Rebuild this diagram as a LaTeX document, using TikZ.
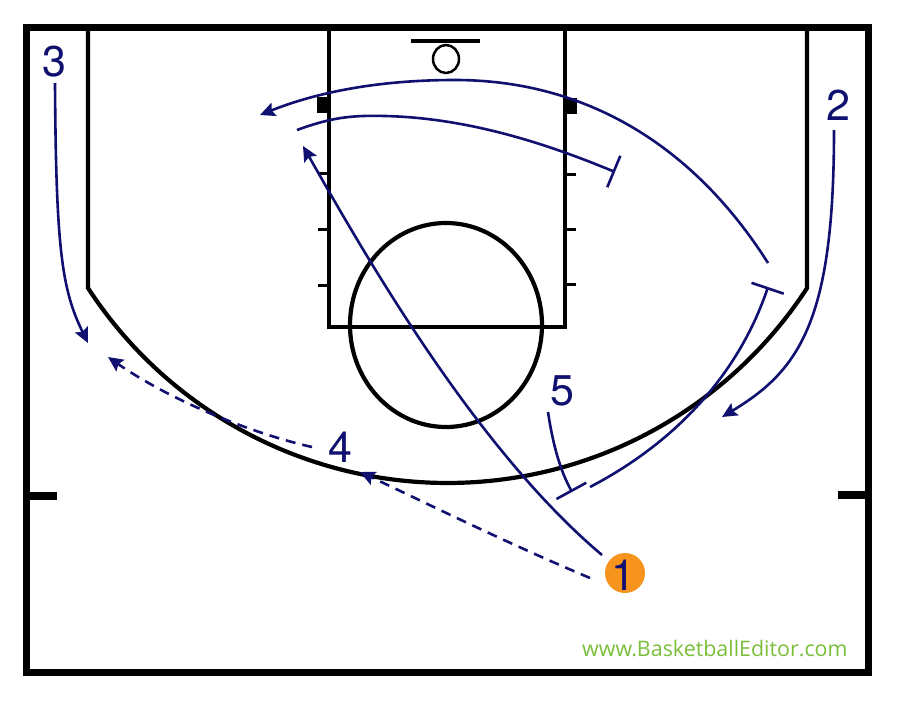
\documentclass[tikz,border=0pt]{standalone}
\usepackage{fontspec}
\setmainfont{TeX Gyre Heros}
\newfontfamily\wmfont{Open Sans}
\usetikzlibrary{arrows.meta}
\definecolor{navy}{RGB}{16,16,112}
\definecolor{wmgreen}{RGB}{122,190,58}
\definecolor{ballorange}{RGB}{247,148,30}
\begin{document}
\begin{tikzpicture}[x=1pt,y=-1pt,
  court/.style={line width=4.2pt, black},
  hashmark/.style={line width=3pt, black},
  sidemark/.style={line width=8pt, black},
  move/.style={navy, line width=2.6pt, -{Stealth[length=15pt,width=14pt,inset=2.5pt]}},
  passline/.style={move, dash pattern=on 10pt off 7pt},
  screen/.style={navy, line width=2.6pt, -{Bar[width=34pt]}},
  num/.style={navy, font=\fontsize{43}{43}\selectfont, inner sep=0pt, anchor=base}]
\fill[white] (0,0) rectangle (899,709);
\useasboundingbox (0,0) rectangle (899,709);
% court
\draw[line width=7pt] (26,28) rectangle (868,672);
\draw[court] (88,28) -- (88,288) arc[start angle=146.94, end angle=33.06, radius=429] -- (807,28);
\draw[court] (329,28) -- (329,327) -- (565,327) -- (565,28);
\draw[court] (411,41) -- (480,41);
\draw[line width=2.5pt] (446,59) ellipse [x radius=13, y radius=14];
\fill (317,97) rectangle (329,113);
\fill (565,98) rectangle (577,114);
\foreach \yy in {173,229,285} \draw[hashmark] (318,\yy) -- (329,\yy);
\foreach \yy in {174,229,284} \draw[hashmark] (565,\yy) -- (576,\yy);
\draw[court] (446,325) ellipse [x radius=96, y radius=102];
\draw[sidemark] (26,496) -- (57,496);
\draw[sidemark] (838,495) -- (868,495);
% players
\node[num] (n3) at (54,77) {3};
\node[num] (n2) at (838,120) {2};
\node[num] (n5) at (562,405) {5};
\node[num] (n4) at (340,462) {4};
\node[circle, fill=ballorange, minimum size=40pt, inner sep=0pt] (ball) at (625,573) {};
\node[num] (n1) at (623,590) {1};
% endpoints
\coordinate (s3) at (55,83);
\coordinate (e3) at (88,343);
\coordinate (s2) at (834,130);
\coordinate (e2) at (722,417);
\coordinate (s4) at (312,447);
\coordinate (e4) at (108,357);
\coordinate (sp) at (590,578);
\coordinate (ep) at (360,472);
\coordinate (sc) at (602,555);
\coordinate (ec) at (303,146);
\coordinate (sa) at (768,263);
\coordinate (ma) at (455,80);
\coordinate (ea) at (260,115);
\coordinate (sb) at (297,130);
\coordinate (mb) at (385,116);
\coordinate (eb) at (615,172);
\coordinate (s5) at (548,412);
\coordinate (e5) at (572,492);
\coordinate (sd) at (590,487);
\coordinate (ed) at (768,287);
% movements
\draw[move] (s3) .. controls (56,250) and (62,290) .. (e3);
\draw[move] (s2) .. controls (834,320) and (800,370) .. (e2);
\draw[passline] (s4) .. controls (250,433) and (170,400) .. (e4);
\draw[passline] (sp) .. controls (500,540) and (420,500) .. (ep);
\draw[move] (sc) .. controls (475,448) and (365,255) .. (ec);
\draw[move] (sa) .. controls (690,140) and (580,80) .. (ma) .. controls (370,80) and (310,95) .. (ea);
\draw[screen] (sb) .. controls (330,118) and (350,115) .. (mb) .. controls (470,118) and (550,145) .. (eb);
\draw[screen] (s5) .. controls (553,445) and (560,470) .. (e5);
\draw[screen] (sd) .. controls (680,440) and (740,370) .. (ed);
% watermark
\node[wmgreen, font=\wmfont\fontsize{21.4}{21.4}\selectfont, anchor=base west, inner sep=0pt] (wm) at (582,656) {www.BasketballEditor.com};
\end{tikzpicture}
\end{document}
